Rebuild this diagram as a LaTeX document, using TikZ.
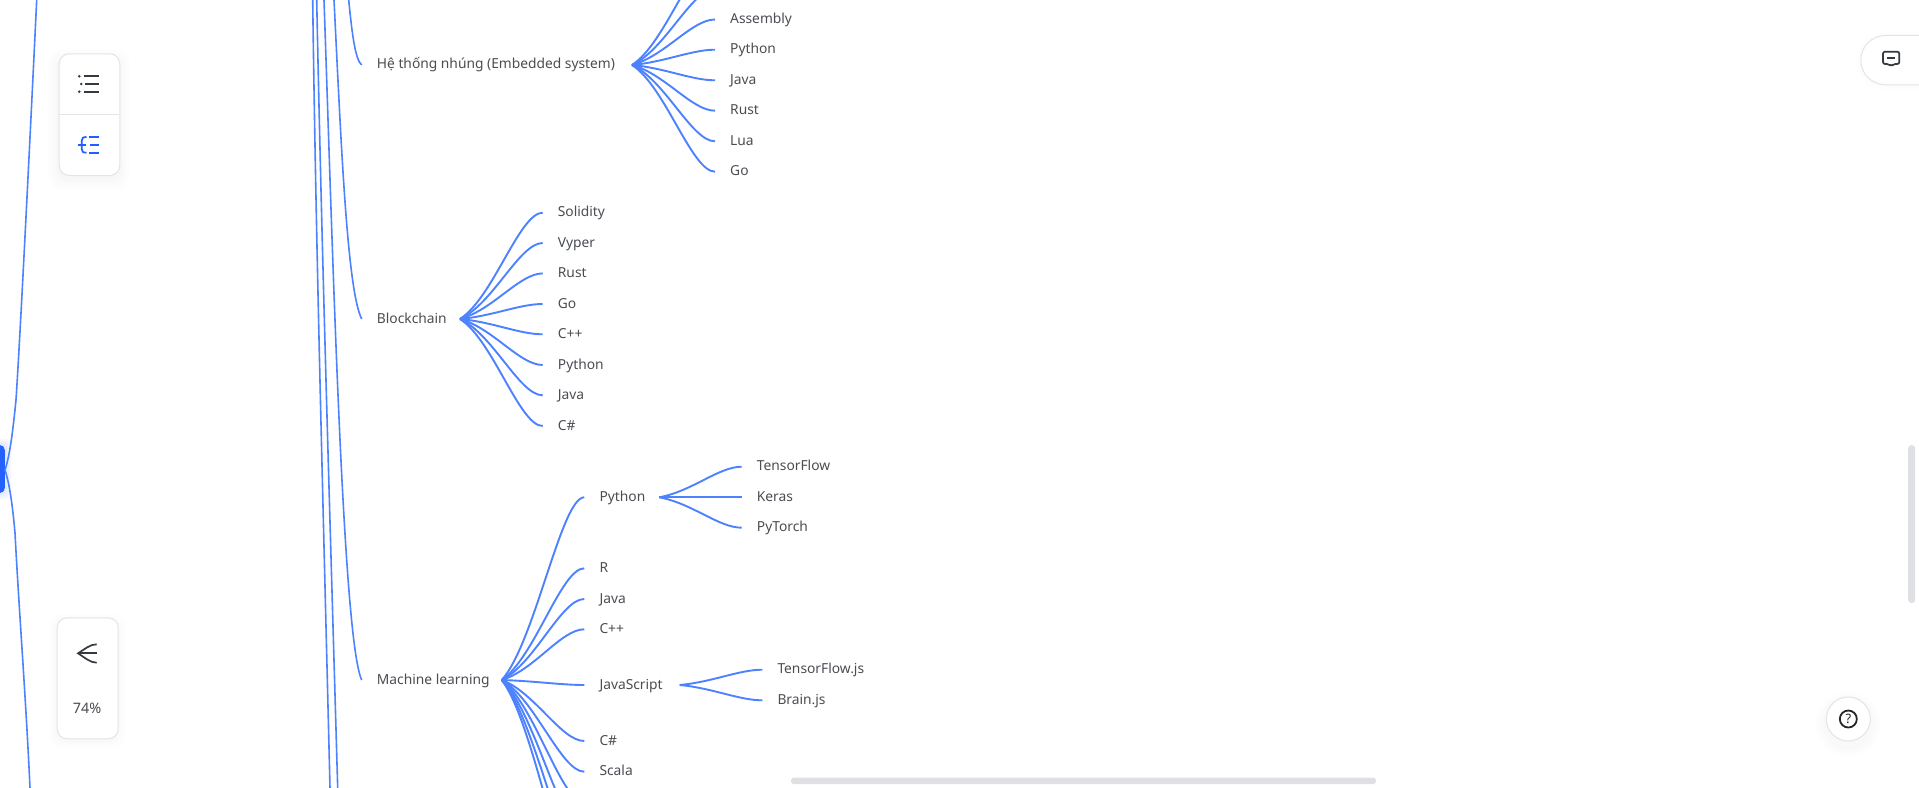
\documentclass[tikz,border=0pt]{standalone}
\usepackage{fontspec}
\setmainfont{Noto Sans}
\usetikzlibrary{calc}
\definecolor{lk}{HTML}{4D82FF}
\definecolor{txt}{HTML}{4A4D52}
\definecolor{bd}{HTML}{E3E4E7}
\definecolor{ic}{HTML}{343A40}
\definecolor{icb}{HTML}{1F5EFF}
\definecolor{sb}{HTML}{DFE0E4}
\tikzset{
 trunk/.style={draw=lk,line width=1.6bp},
 fanlink/.style={draw=lk,line width=1.9bp},
 lab/.style={anchor=west,inner xsep=15bp,inner ysep=0pt,text height=11bp,text depth=3bp,text=txt,font=\fontsize{13.8bp}{16bp}\selectfont},
 panel/.style={draw=bd,fill=white,line width=1bp,rounded corners=10bp},
 pill/.style={draw=bd,fill=white,line width=1bp},
 iconline/.style={draw=ic,line width=1.7bp},
 iconblue/.style={draw=icb,line width=1.7bp},
 bar/.style={fill=sb,rounded corners=3bp},
}
\newcommand\lk[2]{\draw[fanlink] let \p1=(#1),\p2=(#2) in (#1) .. controls ({\x1+.4*(\x2-\x1)},{\y1+.2*(\y2-\y1)}) and ({\x1+.72*(\x2-\x1)},\y2) .. (#2);}
\begin{document}
\begin{tikzpicture}[x=1bp,y=-1bp]
\useasboundingbox (0,0) rectangle (1919,788);
\clip (0,0) rectangle (1919,788);
\fill[white] (0,0) rectangle (1919,788);

% root and left trunks
\foreach \g in {6,4,2}{\fill[icb,opacity=0.04,rounded corners=6bp] (-12,445-\g) rectangle (5+\g,493+\g);}
\node[fill=icb!90!lk,rounded corners=5bp,minimum width=15bp,minimum height=48bp,inner sep=0pt,anchor=east] (root) at (5,469) {};
\coordinate (rp) at (5,470);
\coordinate (upT) at (36.7,0);
\coordinate (dnB) at (30,788);
\draw[trunk] (rp) .. controls (10,455) and (13,430) .. (16,400) .. controls (20,340) and (30,140) .. (upT);
\draw[trunk] (rp) .. controls (10,485) and (13,510) .. (15,533) .. controls (19,610) and (26,700) .. (dnB);

% level-one labels
\node[lab] (embedded) at (361.7,65) {Hệ thống nhúng (Embedded system)};
\node[lab] (blockchain) at (361.7,319) {Blockchain};
\node[lab] (ml) at (361.7,680) {Machine learning};

% long trunks
\coordinate (tA) at (312.7,0); \coordinate (bA) at (330,788);
\coordinate (tB) at (316.7,0); \coordinate (bB) at (337.7,788);
\coordinate (tC) at (324,0);
\coordinate (tD) at (334,0);
\coordinate (tE) at (348.7,0);
\draw[trunk] (tA) .. controls (316,250) and (323,500) .. (bA);
\draw[trunk] (tB) .. controls (322,260) and (330,520) .. (bB);
\draw[trunk] (tC) .. controls (333,260) and (343,640) .. (ml.west);
\draw[trunk] (tD) .. controls (341,140) and (347,290) .. (blockchain.west);
\draw[trunk] (tE) .. controls (351.7,30) and (355,60) .. (embedded.west);

% Embedded system
\coordinate (hE) at (632,65);
\coordinate (eA) at (715,-41.5);
\coordinate (eB) at (715,-11);
\node[lab] (e1) at (715,19.5) {Assembly};
\node[lab] (e2) at (715,49.7) {Python};
\node[lab] (e3) at (715,80.3) {Java};
\node[lab] (e4) at (715,110.7) {Rust};
\node[lab] (e5) at (715,141.3) {Lua};
\node[lab] (e6) at (715,171.7) {Go};
\foreach \c in {eA,eB,e1.west,e2.west,e3.west,e4.west,e5.west,e6.west}{\lk{hE}{\c}}

% Blockchain
\coordinate (hB) at (460,319);
\node[lab] (b1) at (542.7,212.7) {Solidity};
\node[lab] (b2) at (542.7,243) {Vyper};
\node[lab] (b3) at (542.7,273.4) {Rust};
\node[lab] (b4) at (542.7,304) {Go};
\node[lab] (b5) at (542.7,334.3) {C++};
\node[lab] (b6) at (542.7,365) {Python};
\node[lab] (b7) at (542.7,395.3) {Java};
\node[lab] (b8) at (542.7,426) {C\#};
\foreach \c in {b1,b2,b3,b4,b5,b6,b7,b8}{\lk{hB}{\c.west}}

% Machine learning
\coordinate (hM) at (501.7,680);
\node[lab] (m1) at (584.3,497.3) {Python};
\node[lab] (m2) at (584.3,568.3) {R};
\node[lab] (m3) at (584.3,599) {Java};
\node[lab] (m4) at (584.3,629.3) {C++};
\node[lab] (m5) at (584.3,685) {JavaScript};
\node[lab] (m6) at (584.3,741) {C\#};
\node[lab] (m7) at (584.3,771.7) {Scala};
\coordinate (m8) at (584.3,802.5);
\coordinate (m9) at (584.3,833);
\coordinate (m10) at (584.3,863.5);
\coordinate (m11) at (584.3,894);
\foreach \c in {m1.west,m2.west,m3.west,m4.west,m5.west,m6.west,m7.west,m8,m9,m10,m11}{\lk{hM}{\c}}

\coordinate (hP) at (659.3,497.3);
\node[lab] (p1) at (741.7,466.7) {TensorFlow};
\node[lab] (p2) at (741.7,497.3) {Keras};
\node[lab] (p3) at (741.7,527.7) {PyTorch};
\foreach \c in {p1,p2,p3}{\lk{hP}{\c.west}}

\coordinate (hJ) at (679.7,685);
\node[lab] (j1) at (762.3,669.7) {TensorFlow.js};
\node[lab] (j2) at (762.3,700.3) {Brain.js};
\foreach \c in {j1,j2}{\lk{hJ}{\c.west}}

% view switcher panel
\foreach \g in {10,7,4,2}{\fill[black,opacity=0.008,rounded corners=12bp] (58.7-\g,60-\g) rectangle (119.3+\g,179+\g);}
\node[panel,minimum width=60.6bp,minimum height=121.7bp,inner sep=0pt,anchor=north west] (sw) at (58.7,53.3) {};
\coordinate (swL) at (58.7,114.3);
\coordinate (swR) at (119.3,114.3);
\draw[draw=bd,line width=1bp] (swL) -- (swR);
\fill[ic] (79.3,76.3) circle (1.4) (81.3,84) circle (1.4) (79.3,91.7) circle (1.4);
\draw[iconline] (84,76.3) -- (98.7,76.3);
\draw[iconline] (85.3,84) -- (98.7,84);
\draw[iconline] (84,91.7) -- (98.7,91.7);
\draw[iconblue] (89.3,137) -- (98.7,137);
\draw[iconblue] (90,144.7) -- (98.7,144.7);
\draw[iconblue] (89.3,152.7) -- (98.7,152.7);
\draw[iconblue] (86.5,137) .. controls (83,137) and (81.7,138) .. (81.7,141) -- (81.7,149) .. controls (81.7,151.7) and (83,152.7) .. (86.5,152.7);
\draw[iconblue] (77.7,145) -- (85.5,145);

% zoom panel
\foreach \g in {7,4,2}{\fill[black,opacity=0.006,rounded corners=12bp] (56.7-\g,621-\g) rectangle (117.7+\g,741+\g);}
\node[panel,minimum width=61bp,minimum height=121bp,inner sep=0pt,anchor=north west] (zm) at (56.7,617.3) {};
\draw[iconline] (78,653.3) -- (96.7,653.3);
\draw[iconline] (96.7,644.3) .. controls (90,644.3) and (85,649) .. (78,653.3) .. controls (85,657.7) and (90,662.7) .. (96.7,662.7);
\node[text=txt,inner sep=0pt,font=\fontsize{14.4bp}{16bp}\selectfont] (pct) at (87,708.7) {74\%};

% comment tab
\foreach \g in {4,2}{\fill[black,opacity=0.005,rounded corners=26bp] (1860.3-\g,37-\g) rectangle (1960,86+\g);}
\node[pill,rounded corners=24.6bp,minimum width=100bp,minimum height=49.3bp,inner sep=0pt,anchor=north west] (fb) at (1860.3,35) {};
\draw[draw=ic,line width=1.7bp,rounded corners=2bp,line join=round] (1883,51.7) -- (1899.3,51.7) -- (1899.3,64) -- (1893.3,64) -- (1891.2,66.2) -- (1889,64) -- (1883,64) -- cycle;
\draw[iconline] (1887.3,57.7) -- (1895.3,57.7);

% scrollbars
\node[bar,minimum width=7bp,minimum height=157.7bp,inner sep=0pt,anchor=north west] (vs) at (1908,445) {};
\node[bar,minimum width=585bp,minimum height=6.7bp,inner sep=0pt,anchor=north west] (hs) at (790.8,777.3) {};

% help
\foreach \g in {10,7,4}{\fill[black,opacity=0.007] (1848.3,724) circle ({22+\g});}
\node[circle,pill,minimum size=44bp,inner sep=0pt] (help) at (1848.3,719) {};
\draw[draw=black!85,line width=1.8bp] (help.center) circle (8.5);
\node[inner sep=0pt,text=black!85,font=\fontsize{13bp}{14bp}\selectfont\bfseries] (q) at (1848.3,719) {?};
\end{tikzpicture}
\end{document}
